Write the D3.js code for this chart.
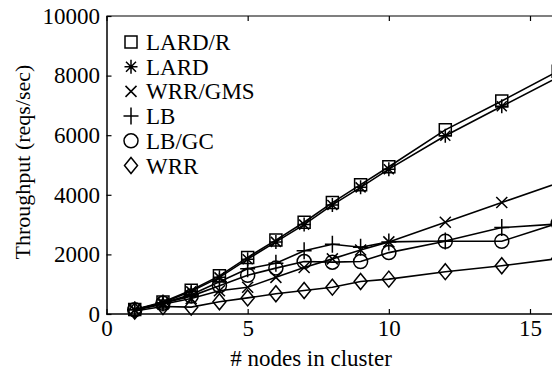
<!DOCTYPE html>
<html>
<head>
<meta charset="utf-8">
<script src="https://cdn.jsdelivr.net/npm/d3@7"></script>
<style>
  body { margin: 0; background: #fff; }
  svg { display: block; }
  text { font-family: "Liberation Serif", "Times New Roman", serif; fill: #000; }
</style>
</head>
<body>
<div id="chart"></div>
<script>
// data
const nodes = [1, 2, 3, 4, 5, 6, 7, 8, 9, 10, 12, 14, 16];
const lardR  = [150, 400, 800, 1280, 1900, 2480, 3080, 3740, 4340, 4940, 6180, 7150, 8150];
const lard   = [140, 380, 760, 1230, 1840, 2420, 3000, 3660, 4250, 4860, 5980, 6970, 7950];
const wrrGms = [130, 330, 520, 780, 900, 1230, 1560, 1850, 2150, 2420, 3080, 3740, 4400];
const lb     = [140, 370, 650, 1080, 1520, 1700, 2120, 2340, 2240, 2420, 2450, 2900, 3020];
const lbGc   = [140, 360, 600, 950, 1300, 1540, 1760, 1740, 1760, 2060, 2440, 2440, 3050];
const wrr    = [100, 250, 230, 410, 540, 680, 790, 900, 1090, 1170, 1420, 1620, 1860];

const seriesNames = ["LARD/R", "LARD", "WRR/GMS", "LB", "LB/GC", "WRR"];
const seriesValues = [lardR, lard, wrrGms, lb, lbGc, wrr];
const seriesMarks = ["square", "star", "cross", "plus", "circle", "diamond"];

const xTicks = [0, 5, 10, 15];
const yTicks = [0, 2000, 4000, 6000, 8000, 10000];

const width = 552, height = 372;

const x = d3.scaleLinear().domain([0, 15]).range([106.5, 530]);
const y = d3.scaleLinear().domain([0, 10000]).range([314, 16]);

const svg = d3.select("#chart").append("svg")
  .attr("width", width)
  .attr("height", height);

// marker shapes
function markPath(kind) {
  if (kind == "square") return "M-6,-6H6V6H-6Z";
  if (kind == "diamond") return "M0,-8L6.5,0L0,8L-6.5,0Z";
  if (kind == "plus") return "M-7.5,0H7.5M0,-8.5V8.5";
  if (kind == "cross") return "M-5.5,-5.5L5.5,5.5M5.5,-5.5L-5.5,5.5";
  if (kind == "star") return "M-6.5,0H6.5M0,-7V7M-5,-5L5,5M5,-5L-5,5";
  return null;
}
function drawMark(g, kind) {
  if (kind == "circle") {
    g.append("circle").attr("r", 7)
      .attr("fill", "none").attr("stroke", "#000").attr("stroke-width", 1.5);
  } else {
    g.append("path").attr("d", markPath(kind))
      .attr("fill", "none").attr("stroke", "#000").attr("stroke-width", 1.5);
  }
}

// axes
const xAxis = svg.append("g")
  .attr("transform", "translate(0," + y(0) + ")")
  .call(d3.axisBottom(x).tickValues(xTicks).tickSize(-5).tickSizeOuter(0).tickPadding(6));
xAxis.selectAll("text").style("font-size", "23px");

svg.append("g")
  .attr("transform", "translate(0," + y(10000) + ")")
  .call(d3.axisTop(x).tickValues(xTicks).tickSize(-5).tickSizeOuter(0).tickFormat(""));

// axis lines run past the picture's right edge
svg.selectAll(".domain").remove();
svg.append("line").attr("x1", x(0)).attr("x2", width).attr("y1", y(0)).attr("y2", y(0))
  .attr("stroke", "#000").attr("stroke-width", 1.5);
svg.append("line").attr("x1", x(0)).attr("x2", width).attr("y1", y(10000)).attr("y2", y(10000))
  .attr("stroke", "#000").attr("stroke-width", 1.2);

const yAxis = svg.append("g")
  .attr("transform", "translate(" + x(0) + ",0)")
  .call(d3.axisLeft(y).tickValues(yTicks).tickSize(-5).tickSizeOuter(0).tickPadding(6.5).tickFormat(d3.format("d")));
yAxis.selectAll("text").style("font-size", "23px");

svg.selectAll(".domain").attr("stroke", "#000").attr("stroke-width", 1.5);
svg.selectAll(".tick line").attr("stroke", "#000").attr("stroke-width", 1.2);

// axis titles
svg.append("text")
  .attr("x", 311)
  .attr("y", 366)
  .attr("text-anchor", "middle")
  .style("font-size", "23px")
  .text("# nodes in cluster");

svg.append("text")
  .attr("transform", "translate(30,162) rotate(-90)")
  .attr("text-anchor", "middle")
  .style("font-size", "22px")
  .text("Throughput (reqs/sec)");

// lines + markers
const line = d3.line()
  .x(d => x(d.x))
  .y(d => y(d.y));

for (let s = 0; s < seriesNames.length; s++) {
  let dataset = [];
  for (let i = 0; i < nodes.length; i++) {
    dataset.push({ x: nodes[i], y: seriesValues[s][i] });
  }
  svg.append("path")
    .datum(dataset)
    .attr("fill", "none")
    .attr("stroke", "#000")
    .attr("stroke-width", 1.6)
    .attr("d", line);

  dataset.forEach(d => {
    const g = svg.append("g").attr("transform", "translate(" + x(d.x) + "," + y(d.y) + ")");
    drawMark(g, seriesMarks[s]);
  });
}

// legend
seriesNames.forEach((name, i) => {
  const ly = 42 + i * 24.7;
  const g = svg.append("g").attr("transform", "translate(131," + ly + ")");
  drawMark(g, seriesMarks[i]);
  svg.append("text")
    .attr("x", 146)
    .attr("y", ly)
    .attr("dy", "0.35em")
    .style("font-size", "23px")
    .text(name);
});
</script>
</body>
</html>
